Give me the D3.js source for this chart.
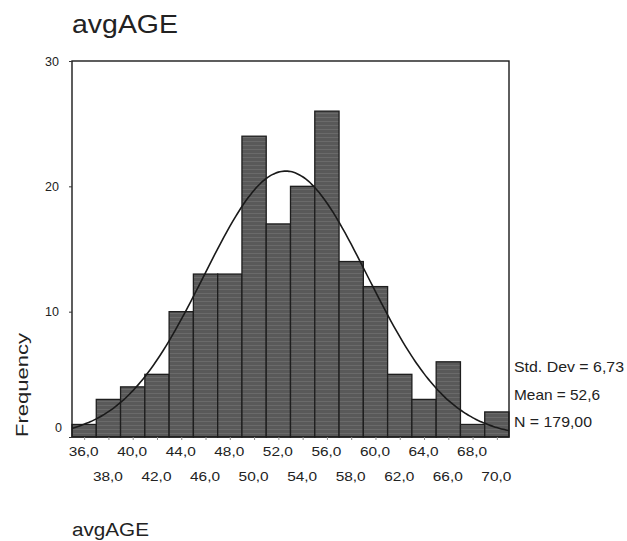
<!DOCTYPE html>
<html>
<head>
<meta charset="utf-8">
<script src="https://cdn.jsdelivr.net/npm/d3@7"></script>
<style>
  body { margin: 0; background: #fff; }
  svg text { font-family: "Liberation Sans", Arial, sans-serif; fill: #222; }
</style>
</head>
<body>
<div id="chart"></div>
<script>
// bin centres (width 2) and their frequencies
const binCenters = [36, 38, 40, 42, 44, 46, 48, 50, 52, 54, 56, 58, 60, 62, 64, 66, 68, 70];
const counts     = [1, 3, 4, 5, 10, 13, 13, 24, 17, 20, 26, 14, 12, 5, 3, 6, 1, 2];
const binWidth = 2;

const yTicks = [0, 10, 20, 30];
const xTickLabels = ["36,0", "38,0", "40,0", "42,0", "44,0", "46,0", "48,0", "50,0", "52,0",
                     "54,0", "56,0", "58,0", "60,0", "62,0", "64,0", "66,0", "68,0", "70,0"];

// summary stats shown at right
const statMean = 52.6;
const statSd = 6.73;
const statN = 179;
const statLabels = ["Std. Dev = 6,73", "Mean = 52,6", "N = 179,00"];
const statWidths = [110, 86, 78];

const width = 627, height = 541;
const margin = { left: 72, right: 118, top: 61, bottom: 104 };

const svg = d3.select("#chart").append("svg")
    .attr("width", width)
    .attr("height", height);

// scanned-looking bar texture
const pat = svg.append("defs").append("pattern")
    .attr("id", "barfill")
    .attr("patternUnits", "userSpaceOnUse")
    .attr("width", 6).attr("height", 4);
pat.append("rect").attr("width", 6).attr("height", 4).attr("fill", "#595959");
pat.append("rect").attr("y", 1).attr("width", 6).attr("height", 1).attr("fill", "#6a6a6a");

const x = d3.scaleLinear()
    .domain([35, 71])
    .range([margin.left, width - margin.right]);

const y = d3.scaleLinear()
    .domain([0, 30])
    .range([height - margin.bottom, margin.top]);

// title
svg.append("text")
    .attr("x", 72).attr("y", 33)
    .attr("textLength", 106).attr("lengthAdjust", "spacingAndGlyphs")
    .style("font-size", "25px")
    .text("avgAGE");

// bars
svg.append("g").selectAll("rect")
    .data(binCenters.map((c, i) => ({ c, n: counts[i] })))
    .enter().append("rect")
    .attr("x", d => x(d.c - binWidth / 2))
    .attr("y", d => y(d.n))
    .attr("width", d => x(d.c + binWidth / 2) - x(d.c - binWidth / 2))
    .attr("height", d => y(0) - y(d.n))
    .attr("fill", "url(#barfill)")
    .attr("stroke", "#1e1e1e")
    .attr("stroke-width", 1.3);

// normal curve fitted from mean / sd / N
const curvePts = d3.range(35, 71.01, 0.25).map(v => {
    const z = (v - statMean) / statSd;
    return [v, statN * binWidth * Math.exp(-0.5 * z * z) / (statSd * Math.sqrt(2 * Math.PI))];
});
svg.append("path")
    .datum(curvePts)
    .attr("fill", "none")
    .attr("stroke", "#1a1a1a")
    .attr("stroke-width", 1.6)
    .attr("d", d3.line().x(d => x(d[0])).y(d => y(d[1])).curve(d3.curveBasis));

// frame
svg.append("rect")
    .attr("x", x(35)).attr("y", y(30))
    .attr("width", x(71) - x(35))
    .attr("height", y(0) - y(30))
    .attr("fill", "none")
    .attr("stroke", "#1a1a1a")
    .attr("stroke-width", 1.4);

// y axis
const yAxis = svg.append("g")
    .attr("transform", `translate(${x(35)},0)`)
    .call(d3.axisLeft(y).tickValues(yTicks).tickSize(3).tickFormat(d3.format("d")));
yAxis.select(".domain").remove();
yAxis.selectAll("line").attr("stroke", "#333");
yAxis.selectAll("text")
    .style("font-size", "12.5px")
    .attr("x", d => d === 0 ? -10 : -13)
    .attr("dy", d => d === 0 ? "-0.45em" : "0.32em");

// x axis, labels alternate between two rows
const xAxis = svg.append("g")
    .attr("transform", `translate(0,${y(0)})`)
    .call(d3.axisBottom(x).tickValues(binCenters).tickSize(3)
        .tickFormat((d, i) => xTickLabels[i]));
xAxis.select(".domain").remove();
xAxis.selectAll("line").attr("stroke", "#888");
xAxis.selectAll("text")
    .style("font-size", "13px")
    .attr("textLength", 30).attr("lengthAdjust", "spacingAndGlyphs")
    .attr("x", d => x(d) - 1 - x(d))
    .attr("y", (d, i) => i % 2 === 0 ? 10 : 35)
    .attr("dy", "0.71em");

// axis titles
svg.append("text")
    .attr("transform", `translate(28,385) rotate(-90)`)
    .attr("text-anchor", "middle")
    .attr("textLength", 104).attr("lengthAdjust", "spacingAndGlyphs")
    .style("font-size", "17px")
    .text("Frequency");

svg.append("text")
    .attr("x", 72).attr("y", 536)
    .attr("textLength", 77).attr("lengthAdjust", "spacingAndGlyphs")
    .style("font-size", "18px")
    .text("avgAGE");

// stats block
svg.append("g").selectAll("text")
    .data(statLabels)
    .enter().append("text")
    .attr("x", 514)
    .attr("y", (d, i) => 372 + i * 27.5)
    .attr("textLength", (d, i) => statWidths[i]).attr("lengthAdjust", "spacingAndGlyphs")
    .style("font-size", "15px")
    .text(d => d);
</script>
</body>
</html>
